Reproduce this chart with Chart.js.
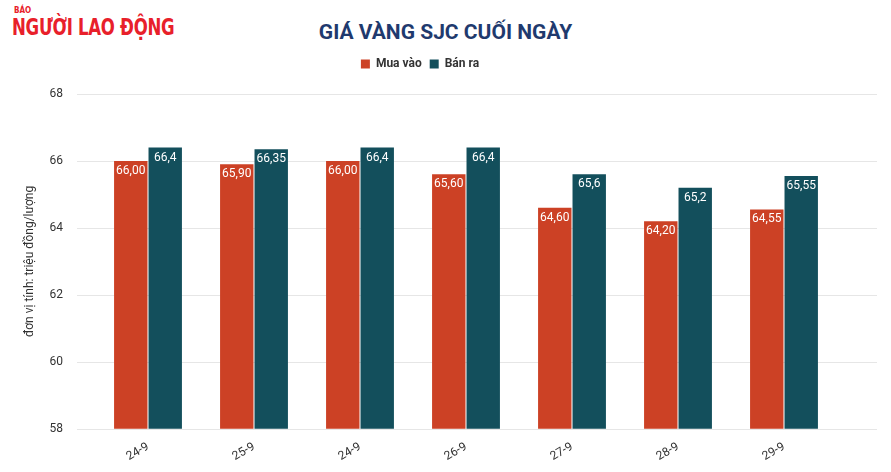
<!DOCTYPE html><html><head><meta charset="utf-8">
<script src="https://cdn.jsdelivr.net/npm/chart.js@4"></script>
<style>body{margin:0;background:#fff;width:891px;height:472px;overflow:hidden;position:relative;font-family:Roboto,Arial,sans-serif}
#logo{position:absolute;left:12px;top:7px;color:#e8202a;font-family:"Liberation Sans Narrow","DejaVu Sans Condensed",sans-serif;font-weight:bold;line-height:1}
#logo .s{font-size:8px;display:block;margin-left:2px}#logo .b{font-size:20px;letter-spacing:-0.3px;display:inline-block;transform:scale(0.92,1.15);transform-origin:top left}
#title{position:absolute;left:0;width:891px;top:20px;text-align:center;color:#1f3a6e;font-weight:bold;font-size:21px}
#c{position:absolute;left:0;top:0}</style></head><body>
<div id="logo"><span class="s">BÁO</span><span class="b">NGƯỜI LAO ĐỘNG</span></div>
<div id="title">GIÁ VÀNG SJC CUỐI NGÀY</div>
<canvas id="c" width="891" height="472"></canvas>
<script>
const categories=["24-9","25-9","24-9","26-9","27-9","28-9","29-9"];
const muaVao=[66.00,65.90,66.00,65.60,64.60,64.20,64.55];
const banRa=[66.4,66.35,66.4,66.4,65.6,65.2,65.55];
const muaLabels=["66,00","65,90","66,00","65,60","64,60","64,20","64,55"];
const banLabels=["66,4","66,35","66,4","66,4","65,6","65,2","65,55"];
const yTicks=[58,60,62,64,66,68];
const gridExt={id:'gridExt',beforeDatasetsDraw(ch){const c=ch.ctx,y=ch.scales.y;c.save();c.strokeStyle='#e6e6e6';c.lineWidth=1;
yTicks.forEach(v=>{const p=Math.round(y.getPixelForValue(v))+0.5;c.beginPath();c.moveTo(77,p);c.lineTo(877,p);c.stroke();});c.restore();}};
const lbl={id:'lbl',afterDatasetsDraw(ch){const c=ch.ctx;c.save();c.fillStyle='#fff';c.font='12px Roboto';c.textAlign='center';c.textBaseline='top';
[muaLabels,banLabels].forEach((L,di)=>{ch.getDatasetMeta(di).data.forEach((b,i)=>{c.fillText(L[i],b.x,b.y+4);});});c.restore();}};
const legPad={id:'legPad',beforeInit(ch){const f=ch.legend.fit;ch.legend.fit=function(){f.bind(ch.legend)();this.height+=14;};}};
new Chart(document.getElementById('c'),{type:'bar',
data:{labels:categories,datasets:[
{label:'Mua vào',data:muaVao,backgroundColor:'#cc4125'},
{label:'Bán ra',data:banRa,backgroundColor:'#134f5c'}]},
options:{responsive:false,animation:false,
layout:{padding:{top:50,right:54,left:3,bottom:5}},
datasets:{bar:{barPercentage:0.97,categoryPercentage:0.65}},
plugins:{legend:{labels:{boxWidth:9,boxHeight:9,font:{family:'Roboto',size:12,weight:'bold'},color:'#333',padding:8}},tooltip:{enabled:false}},
scales:{
x:{grid:{display:false},border:{display:false},ticks:{maxRotation:30,minRotation:30,color:'#333',font:{family:'Roboto',size:12}}},
y:{min:58,max:68,afterBuildTicks(s){s.ticks=yTicks.map(v=>({value:v}));},afterFit(s){s.width=92;},grid:{display:false},border:{display:false},
ticks:{color:'#333',font:{family:'Roboto',size:12},padding:24},
title:{display:true,text:'đơn vị tính: triệu đồng/lượng',color:'#333',font:{family:'Roboto',size:12},padding:{top:20,bottom:16}}}}},
plugins:[gridExt,lbl,legPad]});
</script></body></html>
